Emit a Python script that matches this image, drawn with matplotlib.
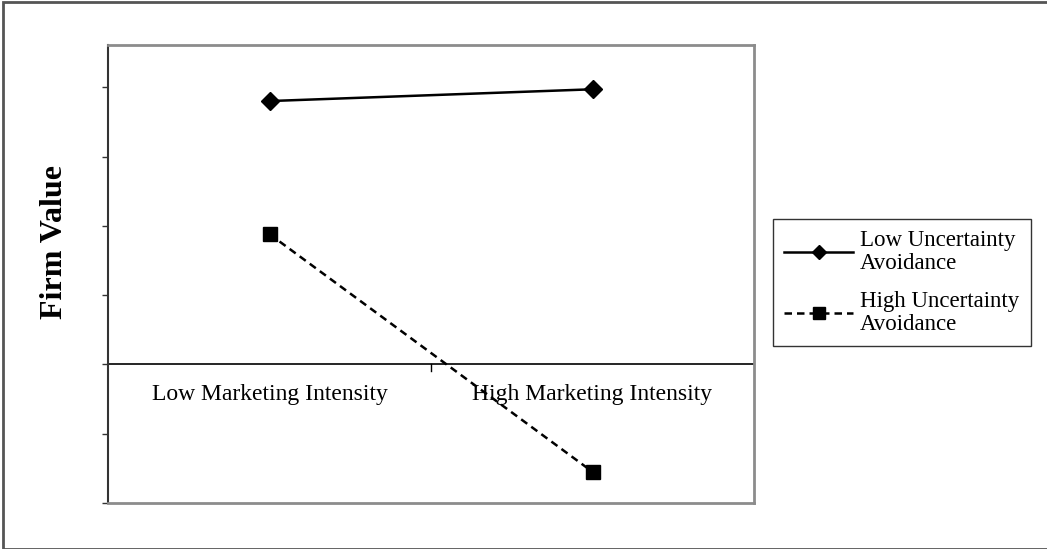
import matplotlib
matplotlib.use("Agg")
import matplotlib.pyplot as plt
from matplotlib.patches import Rectangle

categories = ["Low Marketing Intensity", "High Marketing Intensity"]
low_ua = [3.8, 3.97]
high_ua = [1.88, -1.55]
series_names = ["Low Uncertainty\nAvoidance", "High Uncertainty\nAvoidance"]
y_ticks = [-2, -1, 0, 1, 2, 3, 4]

plt.rcParams['font.family'] = ['Liberation Serif', 'DejaVu Serif']

W, H = 1047, 549
fig = plt.figure(figsize=(W / 100, H / 100), dpi=100)

# plot area in pixels
L, R, T, B = 108, 754, 45, 503
ax = fig.add_axes([L / W, 1 - B / H, (R - L) / W, (B - T) / H])

x = list(range(len(categories)))
ax.plot(x, low_ua, color='black', lw=1.8, marker='D', markersize=9,
        label=series_names[0])
ax.plot(x, high_ua, color='black', lw=1.8, ls=(0, (3, 2)), marker='s',
        markersize=10, label=series_names[1])

ax.set_xlim(-0.5, 1.5)
ax.set_ylim(-2, -2 + (B - T) / 69.3)

ax.set_yticks(y_ticks)
ax.set_yticklabels([])
ax.tick_params(axis='y', direction='out', length=4, width=1, color='#333333')
ax.set_xticks([])

# horizontal category axis at y = 0
ax.axhline(0, color='black', lw=1.2, zorder=1)
ax.plot([0.5, 0.5], [0, -0.09], color='black', lw=1, clip_on=False)
for xi, lab in zip(x, categories):
    ax.text(xi, -0.29, lab, ha='center', va='top', fontsize=17)

for side in ['top', 'right', 'bottom']:
    ax.spines[side].set_color('#8c8c8c')
    ax.spines[side].set_linewidth(2)
ax.spines['left'].set_color('#333333')
ax.spines['left'].set_linewidth(1.5)

ax.set_ylabel('Firm Value', fontsize=23, fontweight='bold', labelpad=0)
ax.yaxis.set_label_coords((69 - L) / (R - L), 0.5 + (0.5 - (242 - T) / (B - T)))

leg = ax.legend(loc='upper left', bbox_to_anchor=((773 - L) / (R - L), 1 - (219 - T) / (B - T)),
                borderaxespad=0, frameon=True, fancybox=False, fontsize=16.5,
                handlelength=3.0, borderpad=0.5, labelspacing=0.75,
                handletextpad=0.3, edgecolor='black', markerscale=0.8)
leg.get_frame().set_linewidth(1)
for t in leg.get_texts():
    t.set_linespacing(1.1)

# outer chart border
fig.add_artist(Rectangle((2.5 / W, 0.5 / H), (W + 5) / W, (H - 2) / H,
                         transform=fig.transFigure, fill=False,
                         edgecolor='#555555', lw=2))

fig.savefig('out.png', dpi=100)
